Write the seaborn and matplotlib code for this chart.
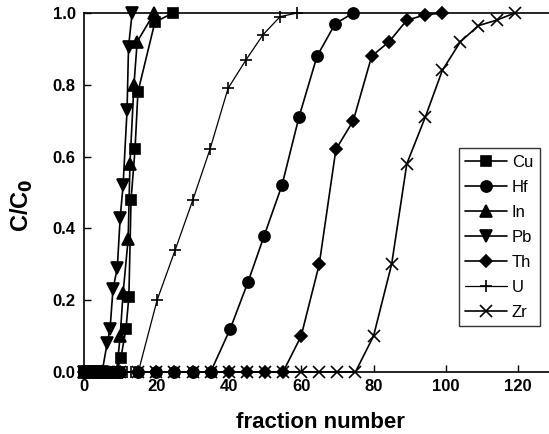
import seaborn as sns
import matplotlib
matplotlib.use('Agg')
import matplotlib.pyplot as plt
import numpy as np

# values
cu_x = list(range(0, 10)) + [10.2, 11.6, 12.4, 13.0, 14.1, 14.9, 19.6, 24.6]
cu_y = [0.0] * 10 + [0.04, 0.12, 0.21, 0.48, 0.62, 0.78, 0.975, 1.0]

hf_x = list(range(0, 40, 5)) + [40.4, 45.3, 49.8, 54.7, 59.4, 64.4, 69.4, 74.4]
hf_y = [0.0] * 8 + [0.12, 0.25, 0.38, 0.52, 0.71, 0.88, 0.97, 1.0]

in_x = list(range(0, 10)) + [10.0, 10.8, 12.2, 12.7, 13.8, 14.7, 19.4]
in_y = [0.0] * 10 + [0.10, 0.22, 0.37, 0.58, 0.80, 0.92, 1.0]

pb_x = list(range(0, 6)) + [6.4, 7.2, 8.0, 9.2, 10.0, 10.8, 11.9, 12.3, 13.3]
pb_y = [0.0] * 6 + [0.08, 0.12, 0.23, 0.29, 0.43, 0.52, 0.73, 0.905, 1.0]

th_x = list(range(0, 60, 5)) + [60.0, 65.0, 69.6, 74.4, 79.5, 84.3, 89.2, 94.3, 99.0]
th_y = [0.0] * 12 + [0.10, 0.30, 0.62, 0.70, 0.88, 0.92, 0.98, 0.995, 1.0]

u_x = list(range(0, 16)) + [20.2, 25.2, 30.1, 34.8, 39.8, 44.8, 49.5, 54.2, 58.9]
u_y = [0.0] * 16 + [0.20, 0.34, 0.48, 0.62, 0.79, 0.87, 0.94, 0.99, 1.0]

zr_x = list(range(0, 80, 5)) + [80.0, 85.0, 89.2, 94.3, 99.0, 104.0, 109.0, 114.0, 119.0]
zr_y = [0.0] * 16 + [0.10, 0.30, 0.58, 0.71, 0.84, 0.92, 0.965, 0.98, 1.0]

series = [
    ('Cu', cu_x, cu_y, 's', 7),
    ('Hf', hf_x, hf_y, 'o', 8),
    ('In', in_x, in_y, '^', 8),
    ('Pb', pb_x, pb_y, 'v', 8),
    ('Th', th_x, th_y, 'D', 6.5),
    ('U', u_x, u_y, '+', 8),
    ('Zr', zr_x, zr_y, 'x', 8),
]

sns.set_style('ticks', {'axes.edgecolor': 'black', 'xtick.color': 'black',
                        'ytick.color': 'black', 'text.color': 'black',
                        'axes.labelcolor': 'black'})
plt.rcParams['font.family'] = ['Liberation Sans', 'DejaVu Sans']

fig = plt.figure(figsize=(5.49, 4.34), dpi=100)
ax = fig.add_axes([0.153, 0.143, 0.857, 0.827])

for name, xs, ys, mk, ms in series:
    lw = 0.9 if name == 'U' else 1.2
    sns.lineplot(x=xs, y=ys, ax=ax, color='black', marker=mk, markersize=ms,
                 markeredgecolor='black', markerfacecolor='black',
                 markeredgewidth=1.2, linewidth=lw, label=name,
                 clip_on=False, sort=False, estimator=None)

ax.set_xlim(0, 130)
ax.set_ylim(0, 1.0)
ax.set_xticks([0, 20, 40, 60, 80, 100, 120])
ax.set_yticks([0.0, 0.2, 0.4, 0.6, 0.8, 1.0])
ax.set_yticklabels(['0.0', '0.2', '0.4', '0.6', '0.8', '1.0'])
ax.tick_params(direction='in', length=5, width=1, labelsize=12, colors='black')
ax.tick_params(axis='y', pad=6)
ax.tick_params(axis='x', pad=5)
for lab in ax.get_xticklabels() + ax.get_yticklabels():
    lab.set_fontweight('bold')
for sp in ax.spines.values():
    sp.set_linewidth(1.2)
    sp.set_color('black')

ax.set_xlabel('fraction number', fontsize=16, fontweight='bold')
ax.set_ylabel(r'C/C$_\mathbf{0}$', fontsize=17, fontweight='bold')
ax.xaxis.set_label_coords(0.502, -0.113)
ax.yaxis.set_label_coords(-0.104, 0.465)

leg = ax.legend(loc='upper left', bbox_to_anchor=(0.796, 0.624), borderaxespad=0,
                fontsize=12, frameon=True, fancybox=False, edgecolor='black',
                handlelength=2.5, labelspacing=0.6, handletextpad=0.3,
                borderpad=0.4)
leg.get_frame().set_linewidth(1.0)

fig.savefig('out.png', dpi=100)
